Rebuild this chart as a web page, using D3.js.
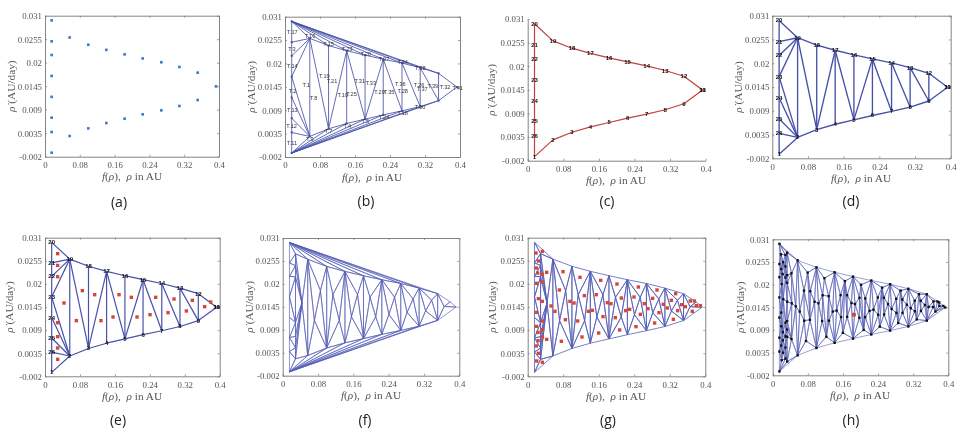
<!DOCTYPE html>
<html><head><meta charset="utf-8">
<script src="https://cdn.jsdelivr.net/npm/d3@7/dist/d3.min.js"></script>
<style>html,body{margin:0;padding:0;background:#fff}svg{display:block}</style></head>
<body><svg id="c" width="976" height="438"></svg>
<script>
const xTicks=[0,0.08,0.16,0.24,0.32,0.4];
const yTicks=[-0.002,0.0035,0.009,0.0145,0.02,0.0255,0.031];
// boundary nodes 1..26
const nodeX=[.0153,.0567,.0996,.141,.183,.2245,.2674,.309,.351,.393,.393,.351,.309,.2674,.2245,.183,.141,.0996,.0567,.0153,.0153,.0153,.0153,.0153,.0153,.0153];
const nodeY=[-.00106,.00284,.00463,.00588,.0069,.00791,.00885,.00986,.01126,.01446,.01446,.01767,.019,.0201,.021,.02195,.023,.0242,.0259,.0299,.025,.0218,.0169,.012,.00713,.00377];
const innerEdges=[[19,21],[19,22],[19,23],[19,2],[23,2],[24,2],[25,2],[26,2],[19,3],[18,3],[17,3],[17,4],[17,5],[16,5],[15,5],[15,6],[15,7],[14,7],[14,8],[13,8],[13,9],[12,9]];
const hullEdges=[[20,18],[20,17],[20,16],[20,15],[20,14],[20,13],[20,12],[1,3],[1,4],[1,5],[1,6],[1,7],[1,8],[1,9]];
const triNames=["T.17","T.16","T.3","T.14","T.1","T.2","T.13","T.12","T.11","T.9","T.8","T.19","T.21","T.15","T.23","T.10","T.25","T.4","T.5","T.7","T.31","T.33","T.20","T.27","T.29","T.35","T.24","T.34","T.36","T.28","T.18","T.38","T.26","T.37","T.30","T.39","T.32","T.41"];
const triX=[.0168,.0571,.016,.0168,.0488,.0175,.0168,.0152,.016,.0571,.0655,.09,.1075,.0998,.1425,.132,.152,.1425,.1836,.0998,.171,.196,.1844,.2263,.216,.238,.2263,.269,.2636,.269,.269,.3093,.3063,.3139,.3086,.338,.366,.3947];
const triY=[.0273,.0265,.0234,.0195,.015,.0136,.0091,.0053,.0014,.0023,.0118,.0171,.0159,.0245,.0233,.0125,.0128,.0054,.0064,.0042,.0158,.0155,.0222,.0211,.0133,.0133,.0075,.0203,.0151,.0136,.0083,.019,.015,.014,.0097,.0148,.0144,.0143];
// first refinement points, panel (e)
const redEX=[.029,.029,.029,.0435,.029,.029,.029,.029,.0718,.0855,.1137,.1282,.1557,.1695,.1977,.2107,.2405,.2534,.2817,.2954,.3237,.3374,.3656,.3794];
const redEY=[.0272,.0244,.0217,.01545,.01077,.00744,.00474,.00204,.01125,.01839,.01743,.01125,.01212,.01743,.0168,.01212,.01267,.0168,.01315,.0164,.01355,.01609,.01458,.01569];
// second refinement points, panel (g)
const redGX=[.0188,.033,.024,.0195,.0225,.033,.0428,.0203,.033,.024,.033,.0195,.033,.0195,.033,.0233,.033,.0233,.0428,.0195,.024,.0203,.033,.0525,.0615,.0713,.0796,.0848,.0758,.0953,.1043,.1178,.1126,.1223,.1276,.1366,.1456,.1546,.1644,.1696,.1599,.1794,.1876,.1974,.2011,.2071,.2109,.2206,.2296,.2394,.2492,.2537,.2439,.2627,.2709,.2814,.2859,.2912,.2957,.3054,.3144,.3235,.328,.3332,.3377,.3467,.355,.3662,.3752,.3707,.3797,.3887];
const redGY=[.02735,.02775,.02545,.02378,.02259,.02227,.02275,.02013,.02045,.01648,.01585,.01323,.01117,.0099,.0091,.00847,.00736,.00649,.0068,.00522,.00347,.00165,.00133,.01474,.01347,.01855,.02291,.01148,.00633,.01585,.01545,.02156,.01117,.00736,.0172,.01347,.01371,.01743,.02085,.0122,.00831,.01553,.01529,.01196,.01997,.00903,.01664,.01363,.01394,.01688,.01926,.01275,.00982,.01529,.0141,.01656,.01069,.01855,.01315,.01513,.01426,.01609,.01156,.01767,.01363,.01505,.01458,.01593,.01593,.01347,.01482,.01482];
const captions=["(a)","(b)","(c)","(d)","(e)","(f)","(g)","(h)"];
const activeX=[.1852], activeY=[.01272];

const boxes=[
 {l:45,r:219,t:15.7,b:156.7,yl:12,cx:119,cy:202,xl:132},
 {l:285,r:460,t:16.7,b:157,yl:252,cx:366,cy:201,xl:372},
 {l:527.7,r:705.7,t:19,b:160.7,yl:492,cx:607,cy:201,xl:616,open:true},
 {l:772.3,r:950.7,t:15.7,b:158.3,yl:739,cx:851,cy:201,xl:861},
 {l:45,r:219.7,t:237.7,b:376.3,yl:10,cx:118,cy:420,xl:132},
 {l:282.7,r:459.3,t:238,b:375.7,yl:250,cx:365,cy:420,xl:371},
 {l:527.7,r:705.3,t:237.7,b:376.3,yl:493,cx:608,cy:420,xl:616},
 {l:772.7,r:948.3,t:239.3,b:375.3,yl:741,cx:851,cy:420,xl:860}
];
const BLUE="#4651ab",LIGHT="#5660b6",RED="#d4483c",GRAY="#555";
const svg=d3.select("#c").style("filter","blur(0.55px)");
const serif="'Liberation Serif',serif";
const ring=nodeX.map((x,i)=>({x,y:nodeY[i],n:i+1}));
const node=n=>ring[n-1];
const ringPoly=ring.map(d=>[d.x,d.y]);
const edRing=ring.map((d,i)=>[d.n,ring[(i+1)%ring.length].n]);

const panels=boxes.map((b,i)=>{
 const g=svg.append("g");
 const x=d3.scaleLinear().domain([0,.4]).range([b.l,b.r]);
 const y=d3.scaleLinear().domain([-.002,.031]).range([b.b,b.t]);
 g.append("g").attr("transform",`translate(0,${b.b})`)
  .call(d3.axisBottom(x).tickValues(xTicks).tickFormat(d=>String(d)).tickSizeInner(-2).tickSizeOuter(0).tickPadding(5));
 g.append("g").attr("transform",`translate(${b.l},0)`)
  .call(d3.axisLeft(y).tickValues(yTicks).tickFormat(d=>String(d)).tickSizeInner(-2).tickSizeOuter(0).tickPadding(3));
 if(!b.open){
  g.append("g").attr("transform",`translate(0,${b.t})`).call(d3.axisTop(x).tickValues(xTicks).tickFormat("").tickSizeInner(-2).tickSizeOuter(0));
  g.append("g").attr("transform",`translate(${b.r},0)`).call(d3.axisRight(y).tickValues(yTicks).tickFormat("").tickSizeInner(-2).tickSizeOuter(0));
 }
 g.selectAll(".domain").attr("stroke","#777").attr("stroke-width",.9);
 g.selectAll(".tick line").attr("stroke","#777").attr("stroke-width",.7);
 g.selectAll(".tick text").attr("font-family",serif).attr("font-size",8.8).attr("fill",GRAY);
 const xl=g.append("text").attr("x",b.xl).attr("y",b.b+23.5).attr("text-anchor","middle")
  .attr("font-family",serif).attr("font-size",11.3).attr("fill",GRAY).attr("xml:space","preserve");
 xl.append("tspan").attr("font-style","italic").text("f");
 xl.append("tspan").text("(");
 xl.append("tspan").attr("font-style","italic").text("ρ");
 xl.append("tspan").text("),  ");
 xl.append("tspan").attr("font-style","italic").text("ρ");
 xl.append("tspan").text(" in AU");
 const yc=(b.t+b.b)/2;
 const yl=g.append("text").attr("transform",`translate(${b.yl+3},${yc}) rotate(-90)`).attr("text-anchor","middle")
  .attr("font-family",serif).attr("font-size",11.3).attr("fill",GRAY);
 yl.append("tspan").attr("font-style","italic").text("ρ\u0307");
 yl.append("tspan").text(" (AU/day)");
 svg.append("text").attr("x",b.cx).attr("y",b.cy+5).attr("text-anchor","middle")
  .attr("font-family","'Open Sans',sans-serif").attr("font-size",14).attr("fill","#222").text(captions[i]);
 return {g,x,y,b};
});

function lines(p,pairs,color,w,op){
 p.g.append("g").selectAll("line").data(pairs).join("line")
  .attr("x1",d=>p.x(d[0].x)).attr("y1",d=>p.y(d[0].y)).attr("x2",d=>p.x(d[1].x)).attr("y2",d=>p.y(d[1].y))
  .attr("stroke",color).attr("stroke-width",w).attr("stroke-opacity",op||1);
}
function squares(p,pts,color,s){
 p.g.append("g").selectAll("rect").data(pts).join("rect")
  .attr("x",d=>p.x(d.x)-s/2).attr("y",d=>p.y(d.y)-s/2).attr("width",s).attr("height",s).attr("fill",color);
}
function nums(p,size,dy){
 p.g.append("g").selectAll("text").data(ring).join("text")
  .attr("x",d=>p.x(d.x)).attr("y",d=>p.y(d.y)+(dy||2)).attr("text-anchor","middle")
  .attr("font-family","'Liberation Sans',sans-serif").attr("font-weight","bold").attr("font-size",size).attr("fill","#111").text(d=>d.n);
}
const N=a=>a.map(([u,v])=>[node(u),node(v)]);
const zip=(xs,ys)=>xs.map((x,i)=>({x,y:ys[i]}));
const redE=zip(redEX,redEY), redG=zip(redGX,redGY);
const base=ring.filter(d=>d.n!==11);

function mesh(pts){
 const dl=d3.Delaunay.from(pts,d=>d.x,d=>d.y);
 const tris=[];
 for(let t=0;t<dl.triangles.length;t+=3){
  tris.push([pts[dl.triangles[t]],pts[dl.triangles[t+1]],pts[dl.triangles[t+2]]]);
 }
 return tris;
}
const triEdges=t=>t.flatMap(a=>[[a[0],a[1]],[a[1],a[2]],[a[2],a[0]]]);
const inside=t=>d3.polygonContains(ringPoly,[(t[0].x+t[1].x+t[2].x)/3,(t[0].y+t[1].y+t[2].y)/3]);

// (a)
squares(panels[0],ring.filter(d=>d.n!==11),"#3c78c8",2.6);
// (b)
lines(panels[1],N(edRing.concat(innerEdges,hullEdges)),BLUE,.85);
squares(panels[1],base,BLUE,2);
panels[1].g.append("g").selectAll("text").data(triNames).join("text")
 .attr("x",(d,i)=>panels[1].x(triX[i])).attr("y",(d,i)=>panels[1].y(triY[i])+2).attr("text-anchor","middle")
 .attr("font-family","'Liberation Sans',sans-serif").attr("font-size",5.6).attr("fill","#333").text(d=>d);
// (c)
lines(panels[2],N(edRing),"#c5413b",1.2);
nums(panels[2],6);
// (d)
lines(panels[3],N(edRing.concat(innerEdges)),BLUE,1.35);
nums(panels[3],6);
// (e)
lines(panels[4],N(edRing.concat(innerEdges)),BLUE,1.2);
nums(panels[4],6);
squares(panels[4],redE,RED,3.4);
// (f)
const m1=mesh(base.concat(redE));
lines(panels[5],triEdges(m1),LIGHT,.65);
// (g)
lines(panels[6],triEdges(m1.filter(inside)),LIGHT,.8);
squares(panels[6],redG,RED,3.4);
// (h)
const m2=mesh(base.concat(redE,redG)).filter(inside);
lines(panels[7],triEdges(m2),LIGHT,.6);
squares(panels[7],base.concat(redE,redG),"#111",2.4);
const act=zip(activeX,activeY);
panels[7].g.append("g").selectAll("circle").data(act).join("circle")
 .attr("cx",d=>panels[7].x(d.x)).attr("cy",d=>panels[7].y(d.y)).attr("r",2.2).attr("fill",RED);
</script></body></html>
